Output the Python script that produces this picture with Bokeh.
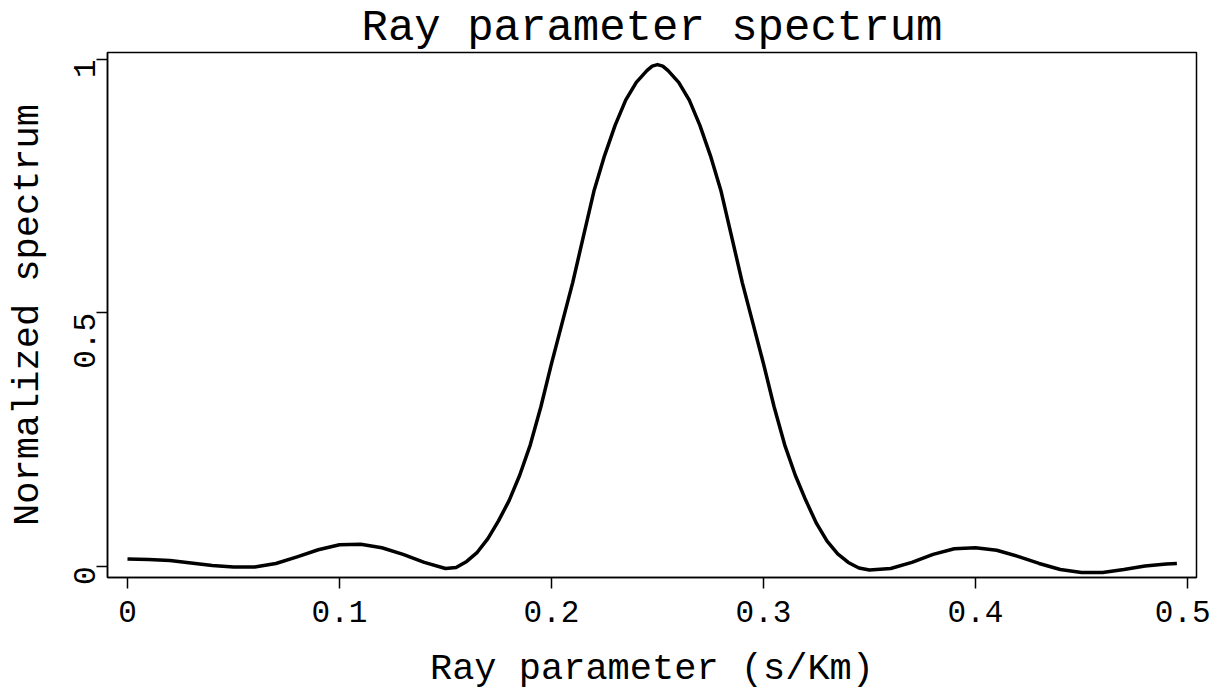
import math
from bokeh.plotting import figure
from bokeh.models import FixedTicker, Range1d
from bokeh.embed import file_html
from bokeh.resources import INLINE

# ---- data ----
ray_p = [0.000, 0.010, 0.020, 0.030, 0.040, 0.050, 0.060, 0.070, 0.080, 0.090,
         0.100, 0.110, 0.120, 0.130, 0.140, 0.150, 0.155, 0.160, 0.165, 0.170,
         0.175, 0.180, 0.185, 0.190, 0.195, 0.200, 0.205, 0.210, 0.215, 0.220,
         0.225, 0.230, 0.235, 0.240, 0.245, 0.2475, 0.250, 0.2525, 0.255, 0.260,
         0.265, 0.270, 0.275, 0.280, 0.285, 0.290, 0.295, 0.300, 0.305, 0.310,
         0.315, 0.320, 0.325, 0.330, 0.335, 0.340, 0.345, 0.350, 0.360, 0.370,
         0.380, 0.390, 0.400, 0.410, 0.420, 0.430, 0.440, 0.450, 0.460, 0.470,
         0.480, 0.490, 0.495]
spectrum = [0.015, 0.014, 0.012, 0.007, 0.002, -0.001, -0.001, 0.006, 0.019, 0.033,
            0.043, 0.044, 0.037, 0.024, 0.008, -0.004, -0.002, 0.010, 0.028, 0.055,
            0.090, 0.130, 0.180, 0.240, 0.315, 0.400, 0.480, 0.560, 0.650, 0.740,
            0.810, 0.870, 0.920, 0.955, 0.978, 0.987, 0.990, 0.987, 0.978, 0.955,
            0.920, 0.870, 0.810, 0.740, 0.650, 0.560, 0.480, 0.400, 0.315, 0.240,
            0.180, 0.130, 0.085, 0.050, 0.025, 0.008, -0.003, -0.007, -0.004, 0.008,
            0.024, 0.035, 0.037, 0.032, 0.020, 0.006, -0.006, -0.012, -0.012, -0.006,
            0.001, 0.005, 0.006]
x_ticks = [0, 0.1, 0.2, 0.3, 0.4, 0.5]
x_tick_labels = ["0", "0.1", "0.2", "0.3", "0.4", "0.5"]
y_ticks = [0, 0.5, 1]
y_tick_labels = ["0", "0.5", "1"]

FONT = "Liberation Mono"

p = figure(width=1210, height=693, output_backend="svg", toolbar_location=None,
           x_range=Range1d(-0.00943, 0.50425), y_range=Range1d(-0.0217, 1.0138),
           min_border_left=107, min_border_right=14, min_border_top=50,
           min_border_bottom=116)

p.title.text = "Ray parameter spectrum"
p.title.align = "center"
p.title.text_font = FONT
p.title.text_font_size = "44px"
p.title.text_font_style = "normal"
p.title.text_color = "black"
p.title.standoff = 0

p.line(ray_p, spectrum, line_color="black", line_width=3.5, line_join="round")

p.xgrid.visible = False
p.ygrid.visible = False
p.outline_line_color = "black"
p.outline_line_width = 1.5
p.outline_line_alpha = 1.0

p.xaxis.ticker = FixedTicker(ticks=x_ticks)
p.yaxis.ticker = FixedTicker(ticks=y_ticks)
p.xaxis.major_label_overrides = {t: l for t, l in zip(x_ticks, x_tick_labels)}
p.yaxis.major_label_overrides = {t: l for t, l in zip(y_ticks, y_tick_labels)}
p.yaxis.major_label_orientation = math.pi / 2

p.xaxis.axis_label = "Ray parameter (s/Km)"
p.yaxis.axis_label = "Normalized spectrum"

for ax in (p.xaxis, p.yaxis):
    ax.axis_line_color = "black"
    ax.axis_line_width = 1.5
    ax.major_tick_line_color = "black"
    ax.major_tick_line_width = 1.5
    ax.major_tick_out = 11
    ax.major_tick_in = 0
    ax.minor_tick_out = 0
    ax.minor_tick_in = 0
    ax.major_label_text_font = FONT
    ax.major_label_text_font_size = "31px"
    ax.major_label_text_color = "black"
    ax.axis_label_text_font = FONT
    ax.axis_label_text_font_size = "37px"
    ax.axis_label_text_font_style = "normal"
    ax.axis_label_text_color = "black"

p.xaxis.major_label_standoff = 12
p.yaxis.major_label_standoff = 12
p.xaxis.axis_label_standoff = 23
p.yaxis.axis_label_standoff = 12

open("out.html", "w").write(file_html(p, INLINE))
